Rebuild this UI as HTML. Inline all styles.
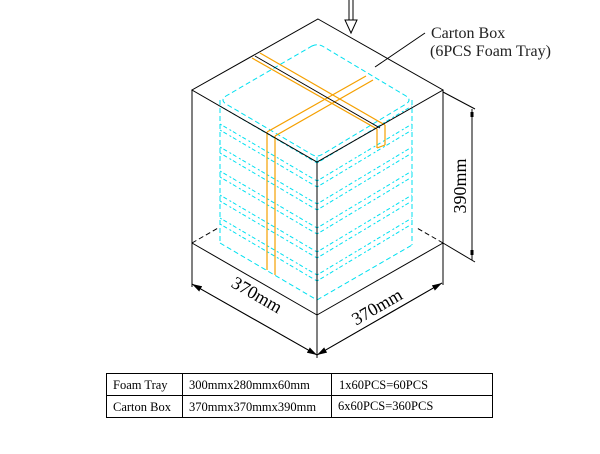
<!DOCTYPE html>
<html><head><meta charset="utf-8"><style>
body{margin:0;background:#fff;}
svg{display:block;}
text{font-family:"Liberation Serif",serif;}
</style></head><body>
<svg width="600" height="454" viewBox="0 0 600 454" xmlns="http://www.w3.org/2000/svg">
<defs>
<marker id="ah" markerWidth="10" markerHeight="6" refX="10" refY="3" orient="auto" markerUnits="userSpaceOnUse"><path d="M0,0 L10,3 L0,6 Z" fill="#000"/></marker>
</defs>
<g fill="none" stroke="#00e0f0" stroke-width="1" stroke-dasharray="5,3">
<path d="M312,46 Q318,43 324,47 L406,96 Q412,100 406,104 L323,154 Q317,158 311,154 L226,104 Q220,100 226,96 Z"/>
<line x1="220" y1="100" x2="220" y2="243"/>
<line x1="412" y1="100" x2="412" y2="245"/>
<line x1="317" y1="157" x2="317" y2="300"/>
<line x1="220" y1="243" x2="317" y2="300"/>
<line x1="317" y1="300" x2="412" y2="245"/>
</g>
<g fill="none" stroke="#00e0f0" stroke-width="1" stroke-dasharray="2,2,4,3">
<line x1="220" y1="106" x2="317" y2="163"/><line x1="317" y1="163" x2="412" y2="106"/>
<line x1="220" y1="124" x2="317" y2="181"/><line x1="317" y1="181" x2="412" y2="124"/>
<line x1="220" y1="130" x2="317" y2="187"/><line x1="317" y1="187" x2="412" y2="130"/>
<line x1="220" y1="147" x2="317" y2="204"/><line x1="317" y1="204" x2="412" y2="147"/>
<line x1="220" y1="153" x2="317" y2="210"/><line x1="317" y1="210" x2="412" y2="153"/>
<line x1="220" y1="171" x2="317" y2="228"/><line x1="317" y1="228" x2="412" y2="171"/>
<line x1="220" y1="177" x2="317" y2="234"/><line x1="317" y1="234" x2="412" y2="177"/>
<line x1="220" y1="195" x2="317" y2="252"/><line x1="317" y1="252" x2="412" y2="195"/>
<line x1="220" y1="201" x2="317" y2="258"/><line x1="317" y1="258" x2="412" y2="201"/>
<line x1="220" y1="218" x2="317" y2="275"/><line x1="317" y1="275" x2="412" y2="218"/>
<line x1="220" y1="224" x2="317" y2="281"/><line x1="317" y1="281" x2="412" y2="224"/>
</g>
<g fill="none" stroke="#f5a000" stroke-width="1.2">
<line x1="252" y1="58" x2="377" y2="129"/>
<line x1="260" y1="53" x2="385" y2="125"/>
<line x1="377" y1="129" x2="377" y2="148"/>
<line x1="385" y1="125" x2="385" y2="145"/>
<line x1="377" y1="148" x2="385" y2="145"/>
<line x1="366" y1="76" x2="267" y2="132"/>
<line x1="373" y1="80" x2="275" y2="136"/>
<line x1="267" y1="132" x2="267" y2="270"/>
<line x1="275" y1="136" x2="275" y2="275"/>
</g>
<g fill="none" stroke="#000" stroke-width="1">
<path d="M318,19 L443,90 L317,162 L192,90 Z"/>
<line x1="255" y1="56" x2="380" y2="128"/>
<line x1="192" y1="90" x2="192" y2="287"/>
<line x1="443" y1="90" x2="443" y2="285"/>
<line x1="317" y1="162" x2="317" y2="358"/>
<line x1="192" y1="243" x2="317" y2="315"/>
<line x1="317" y1="315" x2="443" y2="243"/>
<line x1="192" y1="243" x2="218" y2="228" stroke-dasharray="5,3"/>
<line x1="443" y1="243" x2="417" y2="228" stroke-dasharray="5,3"/>
<line x1="443" y1="92" x2="475" y2="109"/>
<line x1="443" y1="243" x2="475" y2="262"/>
<line x1="472" y1="109" x2="472" y2="260"/>
<line x1="375" y1="67" x2="425" y2="33"/>
</g>
<rect x="470.5" y="112" width="3" height="5" fill="#000"/>
<rect x="470.5" y="250" width="3" height="5" fill="#000"/>
<line x1="317" y1="355" x2="192" y2="284" stroke="#000" marker-end="url(#ah)"/>
<line x1="192" y1="284" x2="317" y2="355" stroke="#000" marker-end="url(#ah)"/>
<line x1="317" y1="355" x2="442" y2="283" stroke="#000" marker-end="url(#ah)"/>
<line x1="442" y1="283" x2="317" y2="355" stroke="#000" marker-end="url(#ah)"/>
<g fill="none" stroke="#000" stroke-width="1">
<line x1="349" y1="0" x2="349" y2="20"/><line x1="353" y1="0" x2="353" y2="20"/>
<path d="M345,20 L357,20 L351,33 Z"/>
</g>
<text x="254" y="300" font-size="18" transform="rotate(30 254 300)" text-anchor="middle">370mm</text>
<text x="380" y="312" font-size="18" transform="rotate(-30 380 312)" text-anchor="middle">370mm</text>
<text x="466" y="186" font-size="18" transform="rotate(-90 466 186)" text-anchor="middle">390mm</text>
<text x="431" y="38" font-size="16" fill="#222">Carton Box</text>
<text x="430" y="56" font-size="16" fill="#222">(6PCS Foam Tray)</text>
<g fill="none" stroke="#000" stroke-width="1">
<rect x="106.5" y="373.5" width="386" height="44"/>
<line x1="106" y1="395.5" x2="492" y2="395.5"/>
<line x1="182.5" y1="373" x2="182.5" y2="417"/>
<line x1="331.5" y1="373" x2="331.5" y2="417"/>
</g>
<g font-size="12.5" fill="#000">
<text x="113" y="389">Foam Tray</text>
<text x="189" y="389">300mmx280mmx60mm</text>
<text x="339" y="389">1x60PCS=60PCS</text>
<text x="113" y="411">Carton Box</text>
<text x="189" y="411">370mmx370mmx390mm</text>
<text x="338" y="410">6x60PCS=360PCS</text>
</g>
</svg>
</body></html>
